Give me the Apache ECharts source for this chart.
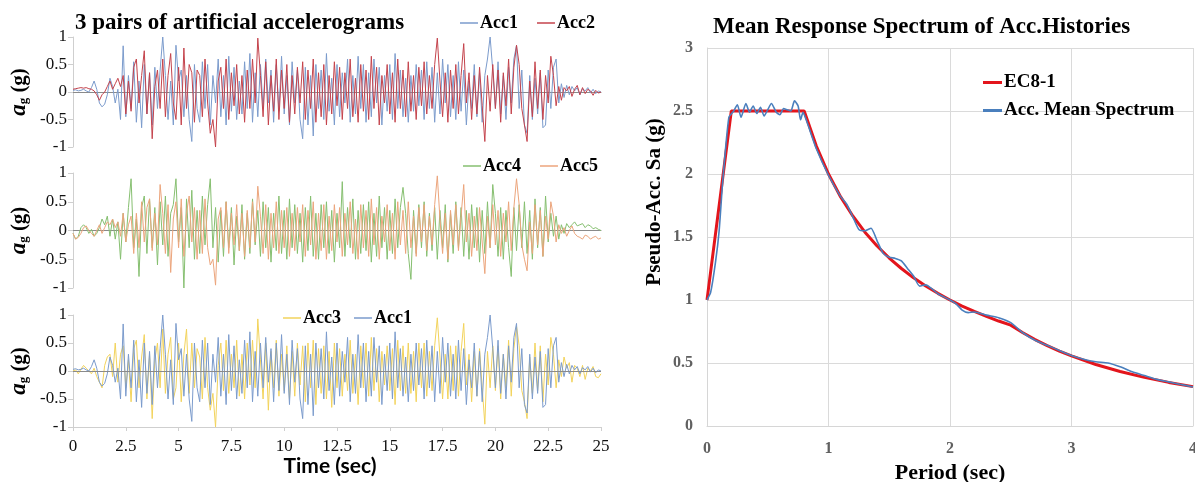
<!DOCTYPE html>
<html><head><meta charset="utf-8">
<script src="https://cdn.jsdelivr.net/npm/echarts@6/dist/echarts.min.js"></script>
<style>html,body{margin:0;padding:0;background:#fff}#c{width:1195px;height:482px}</style>
</head><body><div id="c"></div>
<script>
// sampling interval of the accelerograms (s)
const dt = 0.125;
const acc1 = [
 0.03,0.04,0.02,0.03,0.05,0.02,0.00,0.08,
 0.20,0.05,-0.20,-0.27,-0.22,-0.05,0.25,0.10,
 -0.20,0.05,-0.50,0.84,-0.45,0.30,-0.30,0.55,
 -0.55,0.20,-0.65,0.50,-0.40,0.35,-0.60,0.45,
 -0.30,0.40,1.00,0.30,-0.50,0.20,-0.60,0.85,
 0.20,0.40,-0.45,0.30,-0.50,-0.90,0.50,-0.30,
 -0.55,0.55,-0.30,0.50,-0.60,0.30,-0.20,0.60,
 -0.45,0.30,-0.60,0.65,-0.35,0.45,-0.50,0.20,
 -0.40,0.55,-0.30,0.70,-0.55,0.35,-0.45,0.50,
 -0.30,0.60,-0.20,0.40,-0.55,0.50,-0.35,0.65,
 -0.40,0.30,-0.60,0.55,-0.20,0.40,-0.50,-0.85,
 0.45,-0.60,0.30,-0.80,0.50,-0.30,0.40,-0.50,
 0.70,-0.35,0.25,-0.60,0.50,-0.45,0.35,-0.20,
 0.60,-0.55,0.30,-0.40,0.65,-0.30,0.50,-0.55,
 0.35,-0.45,0.60,-0.20,0.45,-0.60,0.30,-0.35,
 0.50,-0.50,0.70,-0.30,0.40,-0.45,0.25,-0.55,
 0.30,-0.35,0.50,-0.25,0.40,-0.50,0.55,-0.30,
 0.45,-0.55,0.35,-0.40,0.60,-0.20,0.50,-0.45,
 0.30,-0.50,0.55,-0.35,0.40,-0.60,0.20,-0.30,
 0.50,-0.45,0.35,-0.55,0.30,0.60,1.00,0.40,
 -0.30,0.55,-0.40,0.30,-0.50,0.45,-0.20,0.60,
 0.85,-0.30,0.40,-0.60,-0.75,0.30,-0.50,0.25,
 -0.40,0.35,-0.65,-0.60,0.40,-0.30,0.45,0.60,
 -0.20,0.15,-0.10,0.12,-0.05,0.10,0.02,0.08,
 -0.05,0.06,0.02,0.08,-0.02,0.05,-0.03,0.02,0.00];
const acc2 = [
 0.05,0.06,0.07,0.08,0.07,0.08,0.06,0.05,
 0.02,-0.05,-0.15,-0.05,0.00,0.10,0.20,0.05,
 0.15,0.25,0.10,0.30,-0.40,0.20,-0.35,0.45,
 0.60,-0.20,0.30,0.75,-0.40,0.35,-0.85,0.10,
 0.40,-0.30,0.60,-0.45,0.30,0.70,-0.20,-0.50,
 0.45,-0.60,0.80,-0.30,0.50,0.35,-0.55,0.40,
 0.30,-0.45,0.60,-0.20,-0.75,-0.50,-1.00,0.20,
 0.45,-0.30,0.60,-0.50,0.35,-0.25,0.50,-0.40,
 0.30,-0.55,0.40,-0.30,0.60,-0.20,0.98,0.30,
 -0.45,0.55,-0.60,0.30,-0.35,0.60,-0.50,0.40,
 -0.30,0.50,-0.55,0.30,-0.40,0.45,-0.20,0.55,
 -0.50,0.40,-0.30,0.60,-0.55,0.35,-0.45,0.50,
 -0.60,0.30,-0.40,0.55,-0.25,0.45,-0.50,0.35,
 -0.30,0.60,-0.45,0.25,-0.55,0.50,-0.35,0.40,
 -0.50,0.65,-0.30,0.45,-0.60,0.30,-0.20,0.50,
 -0.40,0.35,-0.55,0.60,-0.30,0.40,-0.45,0.55,
 -0.35,0.30,-0.50,0.45,-0.25,0.55,-0.40,0.30,
 -0.30,0.50,0.98,0.20,-0.45,0.35,-0.55,0.40,
 -0.30,0.50,-0.40,0.30,0.88,-0.20,0.35,-0.50,
 0.30,-0.40,0.45,-0.25,-0.90,0.30,-0.35,0.50,
 -0.30,0.40,-0.55,0.35,-0.25,0.60,-0.40,0.45,
 0.85,0.50,-0.30,-0.60,-0.90,0.20,-0.45,0.55,
 -0.30,0.40,-0.50,0.30,-0.20,0.65,0.30,-0.25,
 0.10,-0.15,0.08,0.02,0.10,-0.08,0.05,0.12,
 -0.05,0.08,-0.03,0.05,0.02,-0.06,0.03,-0.02,0.00];
const acc3 = [
 0.00,0.02,-0.05,0.03,0.10,0.05,0.00,-0.05,
 0.05,-0.10,-0.20,-0.30,0.10,0.25,0.30,-0.10,
 0.50,-0.20,0.30,0.45,-0.30,0.20,-0.55,0.40,
 0.55,-0.30,0.25,0.65,-0.50,0.30,-0.85,0.20,
 0.50,-0.30,0.75,-0.40,0.30,0.60,-0.50,-0.30,
 0.50,-0.55,0.30,0.75,-0.40,0.50,-0.30,0.40,
 0.25,-0.50,0.60,-0.30,-0.70,-0.40,-1.00,0.10,
 0.50,-0.35,0.55,-0.40,0.30,-0.30,0.55,-0.45,
 0.30,-0.50,0.50,-0.25,0.55,-0.30,0.93,0.20,
 -0.50,0.50,-0.70,0.35,-0.30,0.55,-0.45,0.30,
 -0.35,0.45,-0.50,0.35,-0.45,0.50,-0.25,0.45,
 -0.55,0.50,-0.30,0.55,-0.60,0.40,-0.40,0.45,
 -0.50,0.35,-0.65,0.50,-0.30,0.40,-0.45,0.30,
 -0.35,0.55,-0.40,0.30,-0.60,0.45,-0.30,0.50,
 -0.45,0.60,-0.35,0.40,-0.55,0.35,-0.25,0.45,
 -0.35,0.40,-0.60,0.55,-0.35,0.45,-0.40,0.50,
 -0.40,0.35,-0.55,0.50,-0.30,0.50,-0.45,0.35,
 -0.35,0.45,0.95,0.25,-0.50,0.30,-0.50,0.45,
 -0.35,0.45,-0.45,0.35,0.85,-0.25,0.30,-0.55,
 0.35,-0.45,0.40,-0.30,-0.95,0.35,-0.30,0.45,
 -0.35,0.45,-0.50,0.30,-0.30,0.55,-0.45,0.40,
 0.80,0.45,-0.35,-0.55,-0.85,0.25,-0.40,0.50,
 -0.35,0.45,-0.55,0.30,-0.25,0.60,0.30,-0.30,
 0.20,-0.10,0.25,0.05,0.15,-0.20,0.10,0.05,
 -0.10,0.10,-0.15,0.05,0.00,0.08,-0.10,-0.12,-0.05];
const acc4 = [
 -0.05,-0.15,-0.10,0.05,0.10,0.05,-0.05,0.02,
 -0.10,-0.05,0.05,0.20,0.10,0.25,-0.10,0.20,
 -0.15,0.15,-0.50,0.30,-0.20,0.40,0.90,-0.30,
 0.20,-0.80,0.40,0.60,-0.40,0.55,-0.30,0.40,
 -0.60,0.50,-0.25,0.60,-0.45,0.30,0.45,0.90,
 -0.20,0.40,-1.00,0.55,-0.30,0.70,-0.50,0.35,
 -0.40,0.60,-0.25,0.45,0.90,-0.30,0.40,-0.55,
 0.35,-0.45,0.50,-0.30,0.40,-0.60,0.25,-0.35,
 0.45,-0.50,0.30,-0.40,0.55,-0.25,0.35,-0.45,
 0.50,-0.30,0.40,-0.55,0.30,-0.35,0.60,-0.40,
 0.35,-0.50,0.55,-0.30,0.45,-0.40,0.30,-0.55,
 0.40,-0.35,0.60,-0.45,0.30,-0.50,0.45,-0.30,
 0.50,-0.40,0.35,-0.55,0.30,-0.30,0.85,-0.45,
 0.40,-0.30,0.55,-0.50,0.35,-0.40,0.45,-0.35,
 0.50,-0.55,0.30,-0.45,0.60,-0.30,0.40,-0.50,
 0.35,-0.40,0.55,-0.30,0.40,0.75,0.30,-0.40,
 -0.85,0.35,-0.40,0.45,-0.30,0.50,-0.45,0.30,
 -0.35,0.40,-0.50,0.35,-0.30,0.45,-0.55,0.30,
 -0.40,0.50,-0.30,0.40,-0.45,0.35,-0.50,0.45,
 -0.30,0.40,-0.55,0.35,-0.40,0.50,-0.30,0.80,
 0.30,-0.45,0.40,-0.50,0.35,-0.30,-0.80,0.40,
 -0.35,0.45,-0.30,0.50,-0.40,0.35,-0.50,0.55,
 -0.30,0.40,-0.45,0.60,-0.20,0.30,-0.10,0.25,
 -0.15,0.10,-0.05,0.12,0.05,0.10,0.15,0.08,
 0.10,0.12,0.05,0.10,0.08,0.03,0.05,0.02,0.00];
const acc5 = [
 -0.05,-0.15,-0.12,-0.05,0.05,0.08,0.00,-0.05,
 -0.10,0.00,0.10,-0.05,0.05,0.15,0.10,0.20,
 0.05,0.15,-0.10,0.30,-0.20,0.10,0.25,-0.40,
 0.30,-0.30,0.50,-0.20,0.40,0.55,-0.35,0.30,
 -0.25,0.80,0.30,-0.40,0.45,-0.73,0.20,0.50,
 -0.30,0.55,-0.45,0.30,0.60,-0.20,0.40,-0.50,
 0.35,-0.40,0.55,-0.30,-0.60,-0.50,-0.95,0.20,
 0.40,-0.30,0.50,-0.40,0.30,-0.25,0.45,-0.35,
 0.30,-0.45,0.35,-0.30,0.50,-0.20,0.77,0.25,
 -0.40,0.45,-0.50,0.30,-0.30,0.50,-0.40,0.35,
 -0.30,0.40,-0.45,0.30,-0.35,0.40,-0.20,0.45,
 -0.45,0.35,-0.25,0.50,-0.50,0.30,-0.35,0.45,
 -0.50,0.25,-0.35,0.45,-0.20,0.40,-0.45,0.30,
 -0.25,0.50,-0.40,0.20,-0.50,0.45,-0.30,0.35,
 -0.45,0.55,-0.25,0.40,-0.50,0.25,-0.20,0.45,
 -0.35,0.30,-0.50,0.50,-0.25,0.35,-0.40,0.50,
 -0.30,0.25,-0.45,0.40,-0.20,0.45,-0.35,0.25,
 -0.25,0.45,0.95,0.20,-0.40,0.30,-0.50,0.35,
 -0.25,0.45,-0.35,0.25,0.80,-0.20,0.30,-0.45,
 0.25,-0.35,0.40,-0.20,-0.75,0.25,-0.30,0.45,
 -0.25,0.35,-0.45,0.30,-0.20,0.50,-0.35,0.40,
 0.90,0.45,-0.25,-0.50,-0.70,0.15,-0.40,0.45,
 -0.25,0.35,-0.45,0.25,-0.15,0.50,0.25,-0.20,
 0.10,-0.05,0.05,-0.10,0.00,0.08,-0.05,-0.10,
 -0.12,-0.15,-0.08,-0.10,-0.15,-0.12,-0.10,-0.15,-0.13];

// response spectra
const ec8Period = [0,0.2,0.8,0.9,1.0,1.1,1.2,1.3,1.4,1.5,1.6,1.7,1.8,1.9,2.0,2.1,2.2,2.3,2.4,2.5,2.6,2.7,2.8,2.9,3.0,3.2,3.4,3.6,3.8,4.0];
const ec8Sa = [1.0,2.5,2.5,2.222,2.0,1.818,1.667,1.538,1.429,1.333,1.25,1.176,1.111,1.053,1.0,0.952,0.909,0.870,0.833,0.8,0.740,0.686,0.638,0.595,0.556,0.488,0.433,0.386,0.346,0.3125];
const meanPeriod = [0,0.03,0.07,0.1,0.13,0.18,0.22,0.25,0.28,0.32,0.35,0.38,0.41,0.44,0.47,0.5,0.53,0.57,0.6,0.63,0.66,0.69,0.72,0.75,0.77,0.79,0.82,0.9,1.0,1.1,1.15,1.2,1.25,1.3,1.35,1.4,1.45,1.5,1.55,1.6,1.65,1.7,1.75,1.8,1.85,1.9,2.0,2.05,2.1,2.15,2.2,2.3,2.4,2.5,2.6,2.7,2.8,2.9,3.0,3.1,3.2,3.3,3.4,3.5,3.6,3.7,3.8,3.9,4.0];
const meanSa = [1.0,1.06,1.3,1.55,1.95,2.45,2.5,2.55,2.45,2.56,2.49,2.54,2.48,2.53,2.46,2.51,2.56,2.49,2.47,2.52,2.51,2.5,2.58,2.54,2.43,2.49,2.42,2.2,1.99,1.82,1.76,1.66,1.56,1.55,1.57,1.47,1.37,1.34,1.33,1.31,1.25,1.19,1.11,1.12,1.09,1.05,1.0,0.97,0.92,0.9,0.905,0.88,0.86,0.82,0.74,0.68,0.64,0.6,0.56,0.53,0.51,0.5,0.47,0.43,0.4,0.37,0.35,0.33,0.31];

const serif = '"Liberation Serif","Times New Roman",serif';
const ts = arr => arr.map((v, i) => [i * dt, v]);
const zip = (a, b) => a.map((x, i) => [x, b[i]]);

const accNameRich = {
  a: {fontFamily: serif, fontWeight: 'bold', fontStyle: 'italic', fontSize: 23, color: '#000'},
  s: {fontFamily: serif, fontWeight: 'bold', fontSize: 13, color: '#000', padding: [9, 0, 0, 0]},
  b: {fontFamily: serif, fontWeight: 'bold', fontSize: 21, color: '#000'}
};
function accY(gi) {
  return {
    gridIndex: gi, type: 'value', min: -1, max: 1, interval: 0.5,
    axisLine: {show: true, lineStyle: {color: '#cfcfcf'}},
    axisTick: {show: true, length: 5, lineStyle: {color: '#cfcfcf'}},
    axisLabel: {fontFamily: serif, fontSize: 17, color: '#111', margin: 6},
    splitLine: {show: false},
    name: '{a|a}{s|g}{b| (g)}', nameLocation: 'middle', nameRotate: 90, nameGap: 42,
    nameTextStyle: {rich: accNameRich}
  };
}
function accXTop(gi) {
  return {
    gridIndex: gi, type: 'value', min: 0, max: 25, interval: 2.5,
    axisLine: {show: true, onZero: true, lineStyle: {color: '#8a8a8a', width: 1}},
    axisTick: {show: false}, axisLabel: {show: false}, splitLine: {show: false}
  };
}
const thin = c => ({type: 'line', showSymbol: false, symbol: 'none', lineStyle: {width: 1, color: c}, itemStyle: {color: c}});

const cAcc1 = '#7b9bcc', cAcc2 = '#c4434c', cAcc4 = '#86bf70', cAcc5 = '#eca57c', cAcc3 = '#f2d35c';
const legText = {fontFamily: serif, fontWeight: 'bold', fontSize: 18, color: '#000', padding: [0, 0, 0, -3]};

const option = {
  animation: false,
  backgroundColor: '#fff',
  title: [
    {text: '3 pairs of artificial accelerograms', left: 75, top: 12, padding: 0,
     textStyle: {fontFamily: serif, fontWeight: 'bold', fontSize: 23, color: '#000'}},
    {text: 'Mean Response Spectrum of Acc.Histories', left: 713, top: 16, padding: 0,
     textStyle: {fontFamily: serif, fontWeight: 'bold', fontSize: 23, color: '#000'}}
  ],
  legend: [
    {data: ['Acc1', 'Acc2'], left: 460, top: 14, padding: 0, icon: 'rect', itemWidth: 18, itemHeight: 1.5, itemGap: 19, textStyle: legText},
    {data: ['Acc4', 'Acc5'], left: 463, top: 157, padding: 0, icon: 'rect', itemWidth: 18, itemHeight: 1.5, itemGap: 19, textStyle: legText},
    {data: ['Acc3', 'Acc1'], left: 283, top: 309, padding: 0, icon: 'rect', itemWidth: 18, itemHeight: 1.5, itemGap: 13, textStyle: legText},
    {data: ['EC8-1', 'Acc. Mean Spectrum'], orient: 'vertical', left: 983, top: 73, padding: 0, icon: 'rect',
     itemWidth: 19, itemHeight: 3, itemGap: 9,
     textStyle: {fontFamily: serif, fontWeight: 'bold', fontSize: 19, color: '#000', padding: [0, 0, 0, -3]}}
  ],
  grid: [
    {left: 73, top: 37, width: 528, height: 110, outerBoundsMode: 'none'},
    {left: 73, top: 173, width: 528, height: 115, outerBoundsMode: 'none'},
    {left: 73, top: 315, width: 528, height: 112, outerBoundsMode: 'none'},
    {left: 707, top: 48, width: 486, height: 378, outerBoundsMode: 'none'}
  ],
  xAxis: [
    accXTop(0), accXTop(1),
    {gridIndex: 2, type: 'value', min: 0, max: 25, interval: 2.5,
     axisLine: {show: true, onZero: false, lineStyle: {color: '#cfcfcf'}},
     axisTick: {show: true, length: 4, lineStyle: {color: '#cfcfcf'}},
     axisLabel: {fontFamily: serif, fontSize: 17, color: '#111', margin: 11},
     splitLine: {show: false},
     name: 'Time (sec)', nameLocation: 'middle', nameGap: 28,
     nameTextStyle: {fontFamily: 'Lato, "Liberation Sans", sans-serif', fontWeight: 'bold', fontSize: 21, color: '#000', padding: [0, 14, 0, 0]}},
    {gridIndex: 3, type: 'value', min: 0, max: 4, interval: 1,
     axisLine: {show: true, lineStyle: {color: '#d6d6d6'}},
     axisTick: {show: false},
     axisLabel: {fontFamily: serif, fontWeight: 'bold', fontSize: 16, color: '#606060', margin: 15},
     splitLine: {show: true, lineStyle: {color: '#dadada'}},
     name: 'Period (sec)', nameLocation: 'middle', nameGap: 29,
     nameTextStyle: {fontFamily: serif, fontWeight: 'bold', fontSize: 22, color: '#000'}}
  ],
  yAxis: [
    accY(0), accY(1), accY(2),
    {gridIndex: 3, type: 'value', min: 0, max: 3, interval: 0.5,
     axisLine: {show: true, lineStyle: {color: '#d6d6d6'}},
     axisTick: {show: false},
     axisLabel: {fontFamily: serif, fontWeight: 'bold', fontSize: 16, color: '#606060', margin: 14},
     splitLine: {show: true, lineStyle: {color: '#dadada'}},
     name: 'Pseudo-Acc. Sa (g)', nameLocation: 'middle', nameRotate: 90, nameGap: 42,
     nameTextStyle: {fontFamily: serif, fontWeight: 'bold', fontSize: 21, color: '#000', padding: [0, 0, 0, 70]}}
  ],
  series: [
    Object.assign(thin(cAcc1), {name: 'Acc1', xAxisIndex: 0, yAxisIndex: 0, data: ts(acc1)}),
    Object.assign(thin(cAcc2), {name: 'Acc2', xAxisIndex: 0, yAxisIndex: 0, data: ts(acc2)}),
    Object.assign(thin(cAcc4), {name: 'Acc4', xAxisIndex: 1, yAxisIndex: 1, data: ts(acc4)}),
    Object.assign(thin(cAcc5), {name: 'Acc5', xAxisIndex: 1, yAxisIndex: 1, data: ts(acc5)}),
    Object.assign(thin(cAcc3), {name: 'Acc3', xAxisIndex: 2, yAxisIndex: 2, data: ts(acc3),
      markLine: {silent: true, symbol: ['none', 'none'], label: {show: false},
        lineStyle: {color: '#8a8a8a', width: 1, type: 'solid'}, emphasis: {disabled: true},
        data: [{yAxis: 0}]}}),
    Object.assign(thin(cAcc1), {name: 'Acc1', xAxisIndex: 2, yAxisIndex: 2, data: ts(acc1)}),
    {name: 'EC8-1', type: 'line', xAxisIndex: 3, yAxisIndex: 3, showSymbol: false, symbol: 'none',
     lineStyle: {width: 3, color: '#e3151c'}, itemStyle: {color: '#e3151c'}, data: zip(ec8Period, ec8Sa)},
    {name: 'Acc. Mean Spectrum', type: 'line', xAxisIndex: 3, yAxisIndex: 3, showSymbol: false, symbol: 'none',
     smooth: 0.2,
     lineStyle: {width: 1.6, color: '#4a7fbd'}, itemStyle: {color: '#4a7fbd'}, data: zip(meanPeriod, meanSa)}
  ]
};
const chart = echarts.init(document.getElementById('c'), null, {renderer: 'canvas'});
chart.setOption(option);
</script>
</body></html>
